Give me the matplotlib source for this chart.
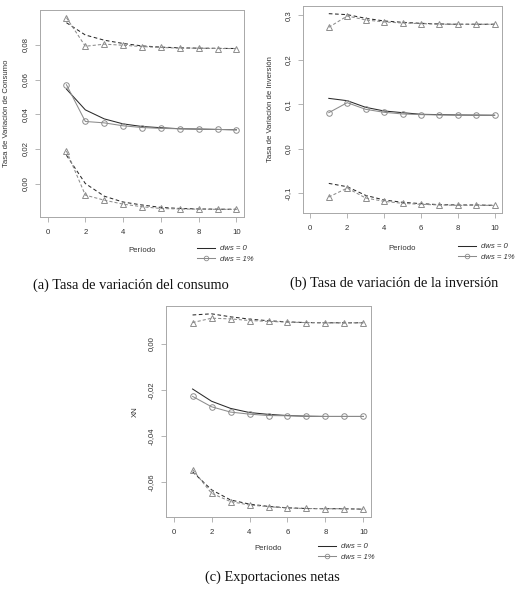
import matplotlib
matplotlib.use("Agg")
import matplotlib.pyplot as plt
from matplotlib.lines import Line2D
from matplotlib.ticker import FuncFormatter
import numpy as np

# ---------------- data ----------------
periods = [1, 2, 3, 4, 5, 6, 7, 8, 9, 10]

# (a) Tasa de variación del consumo
cons_dws0 = [0.0545, 0.0425, 0.0373, 0.0344, 0.0329, 0.0322, 0.0316, 0.0314, 0.0312, 0.0310]
cons_dws0_up = [0.0928, 0.0857, 0.0827, 0.0808, 0.0794, 0.0787, 0.0783, 0.0781, 0.0780, 0.0779]
cons_dws0_lo = [0.0163, 0.0000, -0.0073, -0.0107, -0.0124, -0.0138, -0.0144, -0.0147, -0.0148, -0.0149]
cons_dws1 = [0.0570, 0.0358, 0.0350, 0.0333, 0.0323, 0.0318, 0.0316, 0.0314, 0.0312, 0.0310]
cons_dws1_up = [0.0957, 0.0792, 0.0804, 0.0798, 0.0790, 0.0785, 0.0781, 0.0781, 0.0779, 0.0779]
cons_dws1_lo = [0.0188, -0.0067, -0.0096, -0.0119, -0.0134, -0.0144, -0.0147, -0.0148, -0.0149, -0.0149]

# (b) Tasa de variación de la inversión
inv_dws0 = [0.1134, 0.1082, 0.0933, 0.0851, 0.0813, 0.0776, 0.0769, 0.0761, 0.0757, 0.0754]
inv_dws0_up = [0.3037, 0.3015, 0.2933, 0.2873, 0.2843, 0.2820, 0.2806, 0.2799, 0.2799, 0.2799]
inv_dws0_lo = [-0.0776, -0.0851, -0.1045, -0.1149, -0.1201, -0.1231, -0.1254, -0.1261, -0.1261, -0.1269]
inv_dws1 = [0.0813, 0.1037, 0.0888, 0.0821, 0.0784, 0.0769, 0.0761, 0.0757, 0.0757, 0.0754]
inv_dws1_up = [0.2731, 0.2985, 0.2896, 0.2851, 0.2828, 0.2813, 0.2799, 0.2799, 0.2799, 0.2799]
inv_dws1_lo = [-0.1082, -0.0881, -0.1104, -0.1179, -0.1224, -0.1246, -0.1261, -0.1269, -0.1269, -0.1269]

# (c) Exportaciones netas
xn_dws0 = [-0.0197, -0.0250, -0.0281, -0.0299, -0.0307, -0.0312, -0.0315, -0.0316, -0.0316, -0.0316]
xn_dws0_up = [0.0124, 0.0129, 0.0116, 0.0106, 0.0099, 0.0094, 0.0091, 0.0090, 0.0090, 0.0090]
xn_dws0_lo = [-0.0556, -0.0634, -0.0678, -0.0696, -0.0706, -0.0712, -0.0715, -0.0716, -0.0716, -0.0718]
xn_dws1 = [-0.0229, -0.0274, -0.0297, -0.0306, -0.0312, -0.0313, -0.0315, -0.0316, -0.0316, -0.0316]
xn_dws1_up = [0.0091, 0.0110, 0.0107, 0.0100, 0.0096, 0.0093, 0.0091, 0.0090, 0.0090, 0.0090]
xn_dws1_lo = [-0.0546, -0.0649, -0.0685, -0.0700, -0.0707, -0.0713, -0.0715, -0.0716, -0.0716, -0.0718]

x_ticks = [0, 2, 4, 6, 8, 10]
yticks_a = [0.00, 0.02, 0.04, 0.06, 0.08]
yticks_b = [-0.1, 0.0, 0.1, 0.2, 0.3]
yticks_c = [-0.06, -0.04, -0.02, 0.00]

xlabel_txt = "Período"
ylabel_a = "Tasa de Variación de Consumo"
ylabel_b = "Tasa de Variación de Inversión"
ylabel_c = "XN"
caption_a = "(a) Tasa de variación del consumo"
caption_b = "(b) Tasa de variación de la inversión"
caption_c = "(c) Exportaciones netas"
legend_labels = ["dws = 0", "dws = 1%"]

# ---------------- styling ----------------
W, H = 522, 596
DPI = 100
plt.rcParams['font.family'] = ['Liberation Sans', 'DejaVu Sans']
fig = plt.figure(figsize=(W / DPI, H / DPI), dpi=DPI)
fig.patch.set_facecolor('white')

BLACK = '#2a2a2a'
GRAY = '#8c8c8c'
FRAME = '#a8a8a8'
TXT = '#333333'
FS = 5.6
LW = 0.75


def rect(l, r, t, b):
    return [l / W, 1 - b / H, (r - l) / W, (b - t) / H]


def make_panel(box, mid0, up0, lo0, mid1, up1, lo1, yticks, ndec,
               ylab, ylab_x, xlab_y, leg_x, leg_y, cap, cap_x, cap_y):
    ax = fig.add_axes(rect(*box))
    # dws = 0 : black
    ax.plot(periods, up0, color=BLACK, lw=LW, ls=(0, (3.5, 2.5)))
    ax.plot(periods, lo0, color=BLACK, lw=LW, ls=(0, (3.5, 2.5)))
    ax.plot(periods, mid0, color=BLACK, lw=LW, ls='-')
    # dws = 1% : gray with markers
    ax.plot(periods, up1, color=GRAY, lw=LW, ls=(0, (3.0, 2.0)),
            marker='^', ms=4.6, mfc='none', mec=GRAY, mew=0.7)
    ax.plot(periods, lo1, color=GRAY, lw=LW, ls=(0, (3.0, 2.0)),
            marker='^', ms=4.6, mfc='none', mec=GRAY, mew=0.7)
    ax.plot(periods, mid1, color=GRAY, lw=LW, ls='-',
            marker='o', ms=4.0, mfc='none', mec=GRAY, mew=0.7)

    allv = np.concatenate([mid0, up0, lo0, mid1, up1, lo1])
    lo, hi = allv.min(), allv.max()
    pad = 0.04 * (hi - lo)
    ax.set_ylim(lo - pad, hi + pad)
    ax.set_xlim(-0.4, 10.4)
    ax.set_xticks(x_ticks)
    ax.set_yticks(yticks)
    ax.xaxis.set_major_formatter(FuncFormatter(lambda v, p: f"{v:g}"))
    ax.yaxis.set_major_formatter(
        FuncFormatter(lambda v, p: (f"{abs(v):.{ndec}f}" if abs(v) < 1e-12
                                    else f"{v:.{ndec}f}").replace('.', ',')))
    for lab in ax.get_yticklabels():
        lab.set_rotation(90)
        lab.set_va('center')
    ax.tick_params(axis='both', length=3.5, width=0.6, color=FRAME,
                   labelsize=FS, labelcolor=TXT)
    ax.tick_params(axis='x', pad=5.0)
    ax.tick_params(axis='y', pad=4.5)
    for s in ax.spines.values():
        s.set_color(FRAME)
        s.set_linewidth(0.7)

    fig.text(ylab_x / W, 1 - ((box[2] + box[3]) / 2) / H, ylab, rotation=90,
             ha='center', va='center', fontsize=FS, color=TXT)
    fig.text(((box[0] + box[1]) / 2) / W, 1 - xlab_y / H, xlabel_txt,
             ha='center', va='center', fontsize=FS, color=TXT)

    handles = [Line2D([], [], color=BLACK, lw=LW),
               Line2D([], [], color=GRAY, lw=LW, marker='o', ms=3.3,
                      mfc='none', mec=GRAY, mew=0.6)]
    leg = ax.legend(handles, legend_labels, loc='upper left',
                    bbox_to_anchor=(leg_x / W, 1 - leg_y / H),
                    bbox_transform=fig.transFigure, frameon=False,
                    fontsize=FS, handlelength=2.3, handletextpad=0.6,
                    labelspacing=0.35, borderpad=0, borderaxespad=0)
    for t in leg.get_texts():
        t.set_fontstyle('italic')
        t.set_color(TXT)

    fig.text(cap_x / W, 1 - cap_y / H, cap, ha='center', va='center',
             fontsize=10.4, family=['Liberation Serif', 'DejaVu Serif'],
             color='#111111')
    return ax


make_panel((40, 244, 10, 217), cons_dws0, cons_dws0_up, cons_dws0_lo,
           cons_dws1, cons_dws1_up, cons_dws1_lo, yticks_a, 2,
           ylabel_a, 7, 250, 197, 245, caption_a, 131, 285)

make_panel((303, 502, 6, 213), inv_dws0, inv_dws0_up, inv_dws0_lo,
           inv_dws1, inv_dws1_up, inv_dws1_lo, yticks_b, 1,
           ylabel_b, 271, 248, 458, 243, caption_b, 394, 283)

make_panel((166, 371, 306, 517), xn_dws0, xn_dws0_up, xn_dws0_lo,
           xn_dws1, xn_dws1_up, xn_dws1_lo, yticks_c, 2,
           ylabel_c, 135, 548, 318, 543, caption_c, 272, 577)

fig.savefig("out.png", dpi=DPI, facecolor='white')
